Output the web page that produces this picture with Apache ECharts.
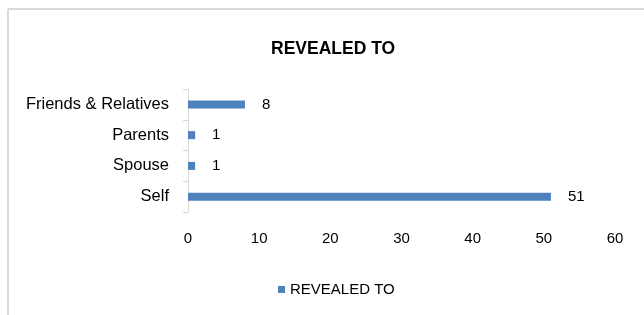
<!DOCTYPE html>
<html>
<head>
<meta charset="utf-8">
<script src="https://cdn.jsdelivr.net/npm/echarts@6/dist/echarts.min.js"></script>
<style>html,body{margin:0;padding:0;background:#fff;}#c{width:644px;height:315px;}</style>
</head>
<body>
<div id="c"></div>
<script>
const categories = ['Self', 'Spouse', 'Parents', 'Friends & Relatives'];
const values = [51, 1, 1, 8];
const xTicks = [0, 10, 20, 30, 40, 50, 60];
const seriesName = 'REVEALED TO';
const titleText = 'REVEALED TO';

const chart = echarts.init(document.getElementById('c'), null, {renderer: 'canvas'});
const font = 'Liberation Sans, Arial, sans-serif';
chart.setOption({
  animation: false,
  backgroundColor: '#ffffff',
  textStyle: {fontFamily: font},
  title: {
    text: titleText,
    left: 266, top: 35,
    textStyle: {fontFamily: font, fontSize: 17.5, fontWeight: 'bold', color: '#000'}
  },
  graphic: [
    {type: 'line', shape: {x1: 8, y1: 9, x2: 644, y2: 9}, style: {stroke: '#d9d9d9', lineWidth: 2}},
    {type: 'line', shape: {x1: 8, y1: 9, x2: 8, y2: 315}, style: {stroke: '#d9d9d9', lineWidth: 2}}
  ],
  legend: {
    data: [seriesName],
    left: 273, top: 277,
    itemWidth: 7, itemHeight: 7, itemGap: 6,
    icon: 'rect',
    textStyle: {fontFamily: font, fontSize: 15, color: '#000', padding: [0,0,0,0]}
  },
  grid: {left: 188, right: 29, top: 89, bottom: 103, containLabel: false},
  xAxis: {
    type: 'value', min: 0, max: xTicks[xTicks.length - 1], interval: 10,
    axisLine: {show: false}, axisTick: {show: false},
    splitLine: {show: false},
    axisLabel: {fontFamily: font, fontSize: 15, color: '#000', margin: 19,
      formatter: v => xTicks.includes(v) ? String(v) : ''}
  },
  yAxis: {
    type: 'category', data: categories,
    axisLine: {show: true, lineStyle: {color: '#d9d9d9', width: 1}},
    axisTick: {show: true, length: 5, lineStyle: {color: '#d9d9d9'}},
    axisLabel: {fontFamily: font, fontSize: 16.5, color: '#000', margin: 19}
  },
  series: [{
    name: seriesName, type: 'bar', data: values, barWidth: 8,
    itemStyle: {color: '#4f81bd'},
    label: {show: true, position: 'right', distance: 17, fontFamily: font, fontSize: 15, color: '#000'}
  }]
});
</script>
</body>
</html>
